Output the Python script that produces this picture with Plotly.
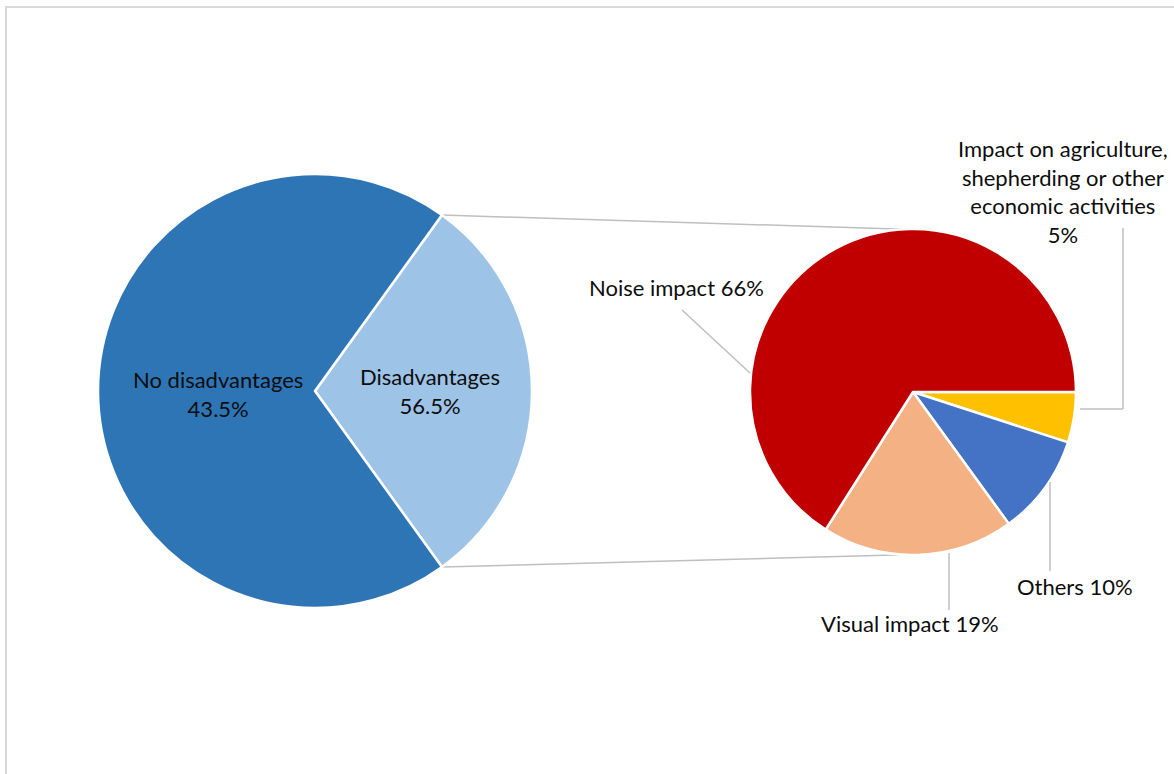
import math
import plotly.graph_objects as go

# ---------------- data ----------------
main_labels = ["No disadvantages", "Disadvantages"]
main_pct_text = [43.5, 56.5]          # percentages printed on the chart
main_drawn_share = [69.9, 30.1]       # angular share of each slice as drawn in the picture
main_colors = ["#2E75B6", "#9DC3E6"]

sub_labels = ["Noise impact", "Visual impact", "Others",
              "Impact on agriculture,<br>shepherding or other<br>economic activities"]
sub_values = [66, 19, 10, 5]
sub_colors = ["#C00000", "#F4B183", "#4472C4", "#FFC000"]

# ---------------- geometry helpers ----------------
W, H = 1174, 774
FONT = "Lato"
TXT = "#0D0D0D"
LINE = "#BFBFBF"


def px(x):
    return x / W


def py(y):
    return 1 - y / H


# left pie: centre / radius in pixels
L_CX, L_CY, L_R = 315, 391, 217
# right pie
R_CX, R_CY, R_R = 913, 392, 163

half_angle = main_drawn_share[1] / 100 * 360 / 2  # half angle of the Disadvantages wedge

fig = go.Figure()

# slices laid out clockwise, so the lists are reversed to get Excel's counter-clockwise order
fig.add_trace(go.Pie(
    labels=main_labels[::-1],
    values=main_drawn_share[::-1],
    sort=False,
    direction="clockwise",
    rotation=90 - half_angle,
    marker=dict(colors=main_colors[::-1], line=dict(color="white", width=2.5)),
    textinfo="none",
    hoverinfo="label",
    domain=dict(x=[px(L_CX - L_R), px(L_CX + L_R)],
                y=[py(L_CY + L_R), py(L_CY - L_R)]),
    showlegend=False,
))

fig.add_trace(go.Pie(
    labels=sub_labels[::-1],
    values=sub_values[::-1],
    sort=False,
    direction="clockwise",
    rotation=90,
    marker=dict(colors=sub_colors[::-1], line=dict(color="white", width=2.5)),
    textinfo="none",
    hoverinfo="label+percent",
    domain=dict(x=[px(R_CX - R_R), px(R_CX + R_R)],
                y=[py(R_CY + R_R), py(R_CY - R_R)]),
    showlegend=False,
))

shapes = []
# chart border (only top/left visible in the picture)
shapes.append(dict(type="rect", xref="paper", yref="paper",
                   x0=px(6), x1=px(1190), y0=py(790), y1=py(7),
                   line=dict(color="#D9D9D9", width=2), fillcolor="rgba(0,0,0,0)"))

# connector lines between the pies
a = math.radians(half_angle)
top_l = (L_CX + L_R * math.cos(a), L_CY - L_R * math.sin(a))
bot_l = (L_CX + L_R * math.cos(a), L_CY + L_R * math.sin(a))
b = math.radians(93)
top_r = (R_CX + R_R * math.cos(b), R_CY - R_R * math.sin(b))
bot_r = (R_CX + R_R * math.cos(b), R_CY + R_R * math.sin(b))
for p0, p1 in [(top_l, top_r), (bot_l, bot_r)]:
    shapes.append(dict(type="line", xref="paper", yref="paper",
                       x0=px(p0[0]), y0=py(p0[1]), x1=px(p1[0]), y1=py(p1[1]),
                       line=dict(color=LINE, width=1.5), layer="below"))

# leader lines for the right pie labels
leaders = [
    [(682, 310), (750, 373)],                       # Noise
    [(949, 553), (949, 610)],                       # Visual
    [(1050, 482), (1050, 571)],                     # Others
    [(1123, 228), (1123, 409), (1080, 409)],        # Agriculture
]
for pts in leaders:
    for p0, p1 in zip(pts[:-1], pts[1:]):
        shapes.append(dict(type="line", xref="paper", yref="paper",
                           x0=px(p0[0]), y0=py(p0[1]), x1=px(p1[0]), y1=py(p1[1]),
                           line=dict(color=LINE, width=1.5)))

annotations = []


def label(text, x, y):
    annotations.append(dict(text=text, x=px(x), y=py(y), xref="paper", yref="paper",
                            showarrow=False, align="center", xanchor="center", yanchor="middle",
                            font=dict(family=FONT, size=22, color=TXT)))


label(f"{main_labels[0]}<br>{main_pct_text[0]}%", 218, 394)
label(f"{main_labels[1]}<br>{main_pct_text[1]}%", 430, 391)
label(f"{sub_labels[0]} {sub_values[0]}%", 677, 287)
label(f"{sub_labels[1]} {sub_values[1]}%", 910, 623)
label(f"{sub_labels[2]} {sub_values[2]}%", 1075, 586)
label(f"{sub_labels[3]}<br>{sub_values[3]}%", 1063, 191)

fig.update_layout(
    width=W, height=H,
    margin=dict(l=0, r=0, t=0, b=0),
    paper_bgcolor="white", plot_bgcolor="white",
    shapes=shapes, annotations=annotations,
    showlegend=False,
    font=dict(family=FONT),
)

fig.write_html("out.html")
